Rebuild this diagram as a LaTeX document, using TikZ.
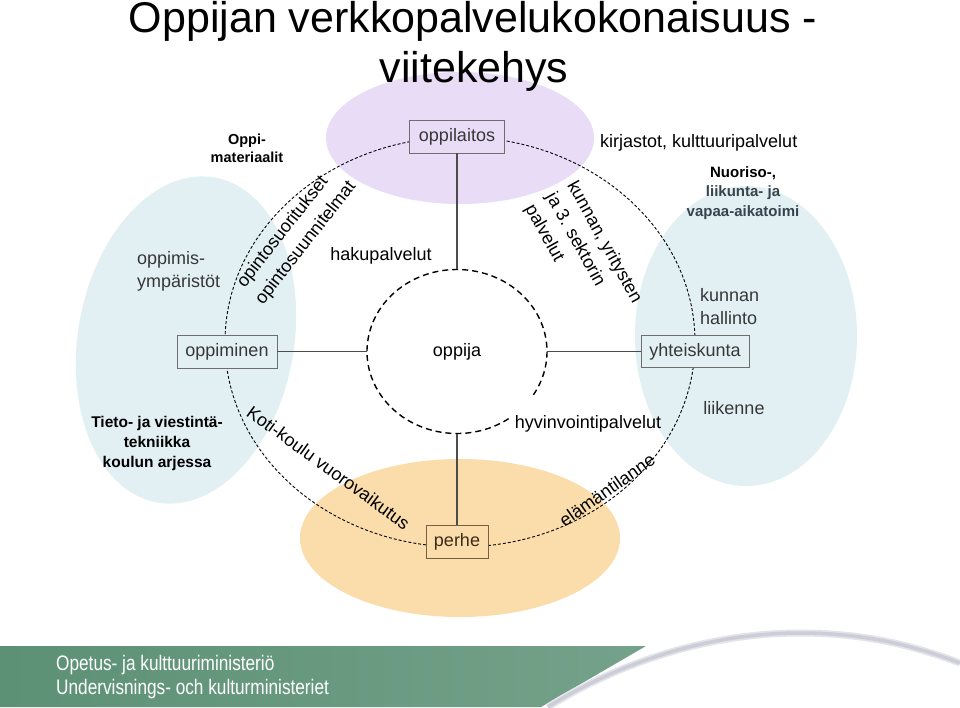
\documentclass[tikz,border=0pt]{standalone}
\usepackage{fontspec}
\setmainfont{Liberation Sans}
\newfontfamily\narrowfont[FakeStretch=0.82]{Liberation Sans}
\usetikzlibrary{shapes.geometric}
\definecolor{lav}{RGB}{232,220,246}
\definecolor{lblue}{RGB}{226,240,243}
\definecolor{peach}{RGB}{251,221,172}
\definecolor{okmgreen}{RGB}{92,145,117}
\definecolor{txtgrey}{RGB}{55,55,55}
\definecolor{tealgrey}{RGB}{55,68,78}
\definecolor{boxline}{RGB}{110,110,110}
\definecolor{brownline}{RGB}{120,95,65}
\definecolor{swoosh}{RGB}{205,205,216}
\begin{document}
\begin{tikzpicture}[x=1pt,y=-1pt,
  lbl/.style={inner sep=0pt, font=\fontsize{18}{23}\selectfont},
  blbl/.style={inner sep=0pt, align=center},
  boxn/.style={draw=boxline, line width=0.8pt, minimum height=33pt, inner sep=0pt,
    font=\fontsize{18}{22}\selectfont, text=txtgrey},
  conn/.style={draw=black!70, line width=1.3pt},
  outerdash/.style={line width=0.9pt, dash pattern=on 3pt off 2pt},
  innerdash/.style={line width=1.4pt, dash pattern=on 6pt off 4pt},
  titlefont/.style={inner sep=0pt, font=\fontsize{43}{50}\selectfont},
  okmtext/.style={inner sep=0pt, anchor=west, text=white, font=\narrowfont\fontsize{21}{24}\selectfont},
]
\useasboundingbox (0,0) rectangle (960,707);
\fill[white] (0,0) rectangle (960,707);

% background blobs
\fill[lav] (460,138) ellipse [x radius=134, y radius=66];
\fill[lblue, rotate around={-10:(186,340)}] (186,340) ellipse [x radius=108, y radius=165];
\fill[lblue] (746,336) ellipse [x radius=111, y radius=150];
\fill[peach] (460,538) ellipse [x radius=160, y radius=79];

% title
\node[titlefont, anchor=base] (title1) at (473,32) {Oppijan verkkopalvelukokonaisuus -};
\node[titlefont, anchor=base] (title2) at (474,82) {viitekehys};

% outer dashed ring
\draw[outerdash] (460,342) ellipse [x radius=235, y radius=205];

% inner circle (learner)
\node[ellipse, minimum width=180pt, minimum height=164pt, inner sep=0pt, lbl] (oppija) at (457,351.5) {oppija};
\draw[innerdash] (457,351.5) ++(55:90 and 82) arc[start angle=55, end angle=394.5, x radius=90, y radius=82];

% boxes
\node[boxn, fill=lav, minimum width=95pt] (oppilaitos) at (457,136.5) {oppilaitos};
\node[boxn, fill=lblue, minimum width=100pt] (oppiminen) at (227,351.5) {oppiminen};
\node[boxn, fill=lblue, minimum width=108pt, minimum height=32pt] (yhteiskunta) at (695,351.5) {yhteiskunta};
\node[boxn, fill=peach, draw=brownline, text={rgb,255:red,60;green,45;blue,25}, minimum width=62pt] (perhe) at (457,541.5) {perhe};

% connectors
\draw[conn] (oppilaitos.south) -- (oppija.north);
\draw[conn] (oppiminen.east) -- (oppija.west);
\draw[conn] (oppija.east) -- (yhteiskunta.west);
\draw[conn] (oppija.south) -- (perhe.north);

% labels
\node[blbl, font=\fontsize{14.5}{18}\selectfont\bfseries] (oppimat) at (247,148) {Oppi-\\materiaalit};
\node[lbl, anchor=west] (kirjastot) at (600,143) {kirjastot, kulttuuripalvelut};
\node[blbl, font=\fontsize{15}{19.5}\selectfont\bfseries] (nuoriso) at (743,193)
  {Nuoriso-,\\\textcolor{tealgrey}{liikunta- ja}\\\textcolor{tealgrey}{vapaa-aikatoimi}};
\node[lbl, align=left, anchor=west, text=txtgrey] (ymparistot) at (137,271) {oppimis-\\ympäristöt};
\node[lbl, rotate=52] (suoritukset) at (283,232) {opintosuoritukset};
\node[lbl, rotate=52] (suunnitelmat) at (306,243) {opintosuunnitelmat};
\node[lbl] (haku) at (381,256) {hakupalvelut};
\node[lbl, align=left, rotate=-61, font=\fontsize{18}{24}\selectfont] (kunnanpalv) at (583,254)
  {kunnan, yritysten\\ja 3. sektorin\\palvelut};
\node[lbl, align=left, anchor=west, text=txtgrey] (hallinto) at (700,307) {kunnan\\hallinto};
\node[lbl, text=txtgrey] (liikenne) at (734,408) {liikenne};
\node[lbl] (hyvinvointi) at (588,424) {hyvinvointipalvelut};
\node[blbl, font=\fontsize{15.5}{20}\selectfont\bfseries] (tvt) at (157,443)
  {Tieto- ja viestintä-\\tekniikka\\koulun arjessa};
\node[lbl, rotate=-36] (kotikoulu) at (328.5,467.5) {Koti-koulu vuorovaikutus};
\node[lbl, rotate=35] (elamantilanne) at (607,490) {elämäntilanne};

% bottom banner
\shade[left color=okmgreen, right color=okmgreen!85!white] (0,646) -- (646,646) -- (541,707) -- (0,707) -- cycle;
\draw[swoosh!55, line width=7pt] (548,707) .. controls (610,668) and (700,633) .. (800,633)
  .. controls (870,633) and (920,648) .. (960,663);
\draw[swoosh, line width=3.5pt] (548,707) .. controls (610,668) and (700,633) .. (800,633)
  .. controls (870,633) and (920,648) .. (960,663);
\node[okmtext] (okm1) at (56,665) {Opetus- ja kulttuuriministeriö};
\node[okmtext] (okm2) at (56,689) {Undervisnings- och kulturministeriet};
\end{tikzpicture}
\end{document}
